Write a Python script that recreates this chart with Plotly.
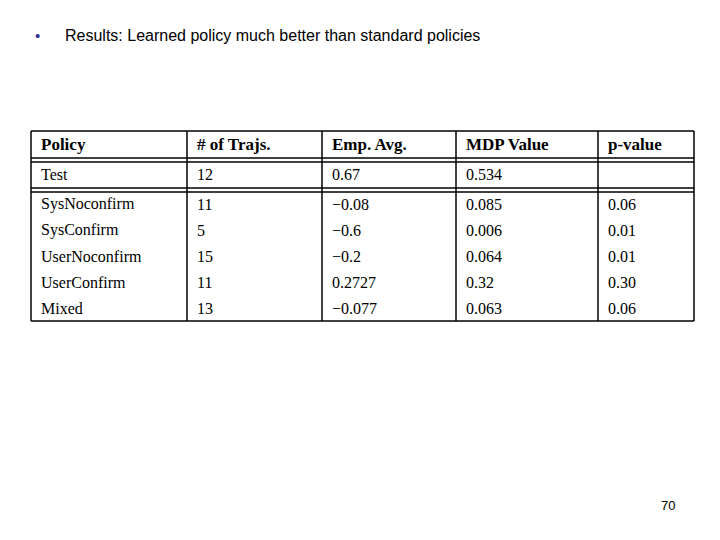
import plotly.graph_objects as go

headers = ["Policy", "# of Trajs.", "Emp. Avg.", "MDP Value", "p-value"]
policies = ["Test", "SysNoconfirm", "SysConfirm", "UserNoconfirm", "UserConfirm", "Mixed"]
trajs = ["12", "11", "5", "15", "11", "13"]
emp_avg = ["0.67", "−0.08", "−0.6", "−0.2", "0.2727", "−0.077"]
mdp_value = ["0.534", "0.085", "0.006", "0.064", "0.32", "0.063"]
p_value = ["", "0.06", "0.01", "0.01", "0.30", "0.06"]

# pixel layout of the table
col_edges = [31, 187, 322, 456, 598, 694]
row_centers = [144, 174, 204, 230, 256, 282, 308]
h_lines = [131, 158, 162, 188, 192, 321]
top, bottom = 131, 321

fig = go.Figure()
line = dict(color="black", width=1.5)
for y in h_lines:
    fig.add_shape(type="line", x0=col_edges[0], x1=col_edges[-1], y0=y, y1=y, line=line)
for x in col_edges:
    fig.add_shape(type="line", x0=x, x1=x, y0=top, y1=bottom, line=line)

columns = [policies, trajs, emp_avg, mdp_value, p_value]
for c, h in enumerate(headers):
    fig.add_annotation(x=col_edges[c] + 8, y=row_centers[0], text="<b>%s</b>" % h,
                       xanchor="left", showarrow=False,
                       font=dict(family="Liberation Serif", size=17, color="black"))
    for r, v in enumerate(columns[c]):
        fig.add_annotation(x=col_edges[c] + 8, y=row_centers[r + 1], text=v,
                           xanchor="left", showarrow=False,
                           font=dict(family="Liberation Serif", size=16, color="black"))

fig.add_annotation(x=33, y=35, text="•", xanchor="left", showarrow=False,
                   font=dict(family="Liberation Sans", size=15, color="#333399"))
fig.add_annotation(x=63, y=35, text="Results: Learned policy much better than standard policies",
                   xanchor="left", showarrow=False,
                   font=dict(family="Liberation Sans", size=16, color="black"))
fig.add_annotation(x=677, y=505, text="70", xanchor="right", showarrow=False,
                   font=dict(family="Liberation Sans", size=13, color="black"))

# ranges offset by the page's 8px body margin
fig.update_layout(
    width=720, height=540, margin=dict(l=0, r=0, t=0, b=0),
    plot_bgcolor="white", paper_bgcolor="white",
    xaxis=dict(range=[8, 728], visible=False, fixedrange=True),
    yaxis=dict(range=[548, 8], visible=False, fixedrange=True),
    showlegend=False,
)
fig.write_html("out.html")
